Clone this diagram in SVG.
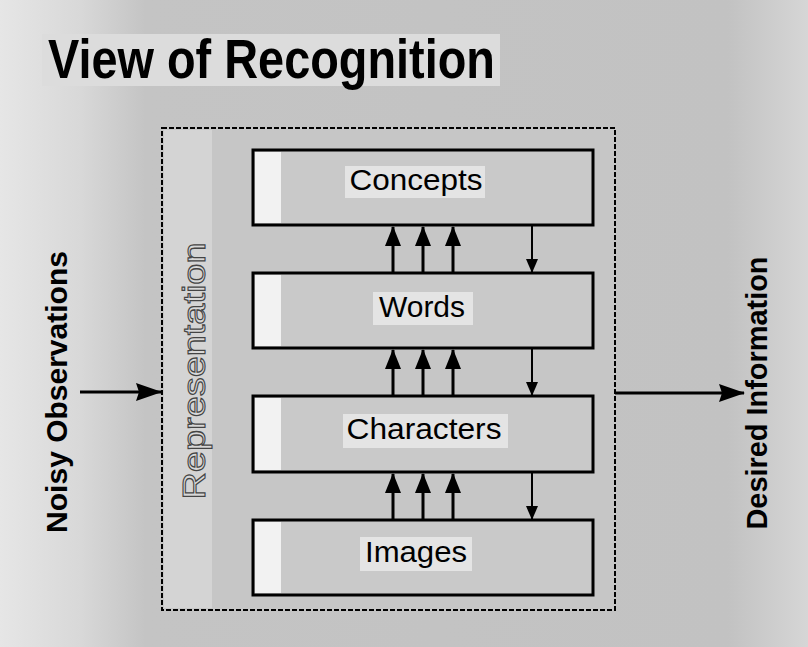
<svg xmlns="http://www.w3.org/2000/svg" width="808" height="647" viewBox="0 0 808 647">
  <defs>
    <linearGradient id="bg" x1="0" y1="0" x2="1" y2="0">
      <stop offset="0" stop-color="#e6e6e6"/>
      <stop offset="0.1" stop-color="#d8d8d8"/>
      <stop offset="0.18" stop-color="#c4c4c4"/>
      <stop offset="0.9" stop-color="#c2c2c2"/>
      <stop offset="1" stop-color="#d6d6d6"/>
    </linearGradient>
    <marker id="up" viewBox="0 0 20 16" refX="19" refY="8" markerWidth="20" markerHeight="16" markerUnits="userSpaceOnUse" orient="auto">
      <path d="M0,0 L20,8 L0,16 Z" fill="#000"/>
    </marker>
    <marker id="down" viewBox="0 0 14 12" refX="13" refY="6" markerWidth="14" markerHeight="12" markerUnits="userSpaceOnUse" orient="auto">
      <path d="M0,0 L14,6 L0,12 Z" fill="#000"/>
    </marker>
    <marker id="big" viewBox="0 0 26 18" refX="25" refY="9" markerWidth="26" markerHeight="18" markerUnits="userSpaceOnUse" orient="auto">
      <path d="M0,0 L26,9 L0,18 L3,9 Z" fill="#000"/>
    </marker>
  </defs>
  <style>
    .layer { fill: #c9c9c9; stroke: #000; stroke-width: 3; }
    .strip { fill: #f2f2f2; }
    .hl { fill: #e4e4e4; }
    .label { font-family: "Liberation Sans", Arial, sans-serif; font-size: 30px; fill: #000; text-anchor: middle; }
    .side { font-family: "Liberation Sans", Arial, sans-serif; font-size: 30px; font-weight: bold; fill: #000; text-anchor: middle; }
    .upc { stroke: #000; stroke-width: 3; fill: none; }
    .dnc { stroke: #000; stroke-width: 2; fill: none; }
    .io { stroke: #000; stroke-width: 3; fill: none; }
  </style>

  <rect x="0" y="0" width="808" height="647" fill="url(#bg)"/>

  <!-- title -->
  <rect x="42" y="34" width="458" height="52" fill="#dcdcdc"/>
  <text x="48" y="78" font-family="Liberation Sans, Arial, sans-serif" font-weight="bold" font-size="56" textLength="447" lengthAdjust="spacingAndGlyphs" fill="#000">View of Recognition</text>

  <!-- representation container -->
  <g id="representation">
    <rect x="162" y="128" width="453" height="482" fill="#c6c6c6" stroke="#000" stroke-width="2" stroke-dasharray="5 2"/>
    <rect x="164" y="130" width="48" height="478" fill="#d4d4d4"/>
    <text x="205" y="371" transform="rotate(-90 205 371)" font-family="Liberation Sans, Arial, sans-serif" font-size="32" text-anchor="middle" textLength="257" lengthAdjust="spacingAndGlyphs" fill="#d8d8d8" stroke="#444" stroke-width="1.1">Representation</text>
  </g>

  <g id="concepts">
    <rect class="layer" x="253" y="150" width="340" height="75"/>
    <rect class="strip" x="255" y="152" width="26" height="71"/>
    <rect class="hl" x="345" y="166" width="140" height="32"/>
    <text class="label" x="416" y="190" textLength="133" lengthAdjust="spacingAndGlyphs">Concepts</text>
  </g>
  <g id="words">
    <rect class="layer" x="253" y="273" width="340" height="75"/>
    <rect class="strip" x="255" y="275" width="26" height="71"/>
    <rect class="hl" x="373" y="292" width="100" height="33"/>
    <text class="label" x="422" y="317">Words</text>
  </g>
  <g id="characters">
    <rect class="layer" x="253" y="396" width="340" height="76"/>
    <rect class="strip" x="255" y="398" width="26" height="72"/>
    <rect class="hl" x="343" y="414" width="165" height="34"/>
    <text class="label" x="424" y="439" textLength="155" lengthAdjust="spacingAndGlyphs">Characters</text>
  </g>
  <g id="images">
    <rect class="layer" x="253" y="520" width="340" height="75"/>
    <rect class="strip" x="255" y="522" width="26" height="71"/>
    <rect class="hl" x="360" y="537" width="112" height="34"/>
    <text class="label" x="416" y="562" textLength="102" lengthAdjust="spacingAndGlyphs">Images</text>
  </g>

  <g id="noisy-observations">
    <text class="side" x="67" y="392" transform="rotate(-90 67 392)">Noisy Observations</text>
  </g>
  <g id="desired-information">
    <text class="side" x="767" y="393" transform="rotate(-90 767 393)" textLength="273" lengthAdjust="spacingAndGlyphs">Desired Information</text>
  </g>

  <g id="connectors">
    <!-- words -> concepts -->
    <line class="upc" x1="393" y1="272" x2="393" y2="227" marker-end="url(#up)"/>
    <line class="upc" x1="423" y1="272" x2="423" y2="227" marker-end="url(#up)"/>
    <line class="upc" x1="453" y1="272" x2="453" y2="227" marker-end="url(#up)"/>
    <line class="dnc" x1="532" y1="226" x2="532" y2="272" marker-end="url(#down)"/>
    <!-- characters -> words -->
    <line class="upc" x1="393" y1="395" x2="393" y2="350" marker-end="url(#up)"/>
    <line class="upc" x1="423" y1="395" x2="423" y2="350" marker-end="url(#up)"/>
    <line class="upc" x1="453" y1="395" x2="453" y2="350" marker-end="url(#up)"/>
    <line class="dnc" x1="532" y1="349" x2="532" y2="395" marker-end="url(#down)"/>
    <!-- images -> characters -->
    <line class="upc" x1="393" y1="519" x2="393" y2="474" marker-end="url(#up)"/>
    <line class="upc" x1="423" y1="519" x2="423" y2="474" marker-end="url(#up)"/>
    <line class="upc" x1="453" y1="519" x2="453" y2="474" marker-end="url(#up)"/>
    <line class="dnc" x1="532" y1="473" x2="532" y2="519" marker-end="url(#down)"/>
    <!-- in / out -->
    <line class="io" x1="80" y1="392" x2="161" y2="392" marker-end="url(#big)"/>
    <line class="io" x1="615" y1="393" x2="744" y2="393" marker-end="url(#big)"/>
  </g>
</svg>
